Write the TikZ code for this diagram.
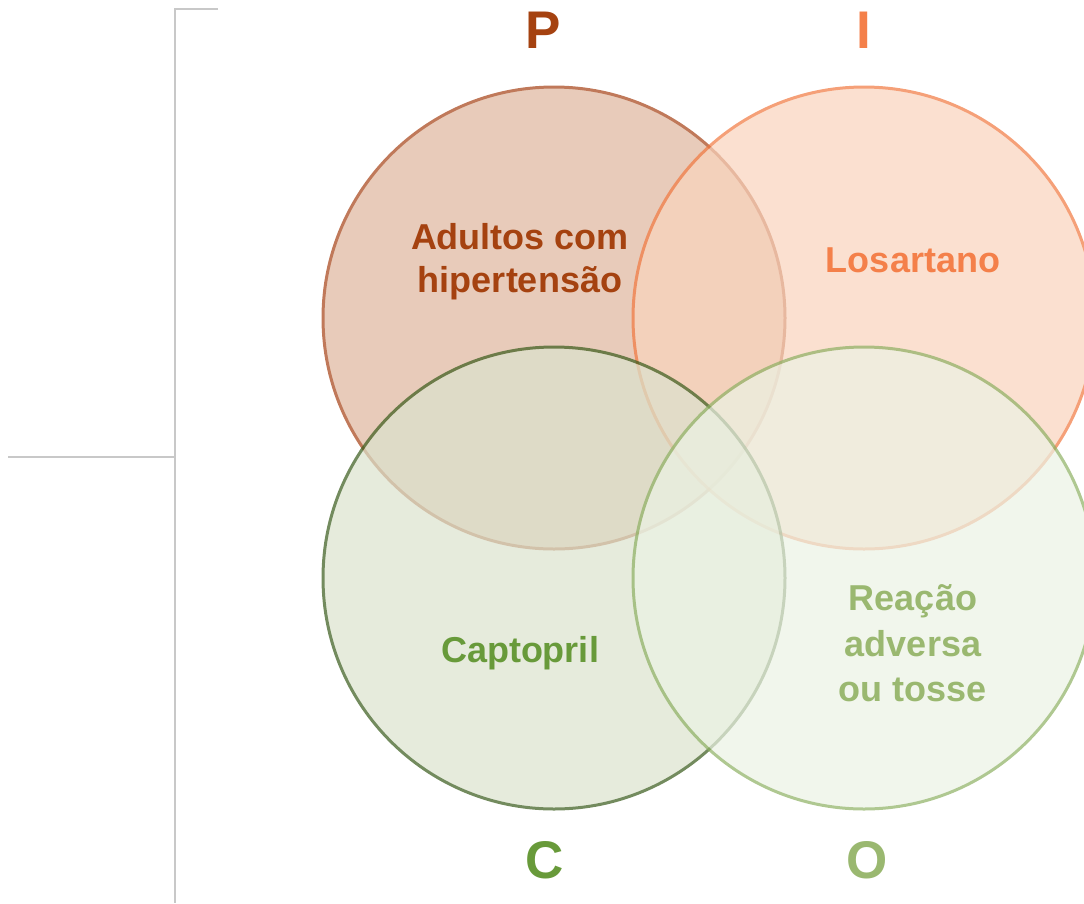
\documentclass[tikz,border=0pt]{standalone}
\usepackage{fontspec}
\setmainfont{Liberation Sans}
\definecolor{pcol}{RGB}{165,66,16}
\definecolor{icol}{RGB}{244,128,74}
\definecolor{ccol}{RGB}{104,154,58}
\definecolor{ocol}{RGB}{154,184,112}
\definecolor{pfill}{RGB}{222,181,156}
\definecolor{ifill}{RGB}{249,211,188}
\definecolor{cfill}{RGB}{219,226,205}
\definecolor{ofill}{RGB}{235,242,228}
\definecolor{pstroke}{RGB}{165,64,20}
\definecolor{istroke}{RGB}{241,119,62}
\definecolor{cstroke}{RGB}{55,90,25}
\definecolor{ostroke}{RGB}{141,176,98}
\definecolor{brk}{RGB}{200,200,200}
\tikzset{
  venn/.style={circle, minimum size=462pt, inner sep=0pt, line width=3pt},
  bigletter/.style={font=\fontsize{53}{60}\selectfont\bfseries, anchor=base, inner sep=0pt},
  lbl/.style={font=\fontsize{36}{43}\selectfont\bfseries, align=center, inner sep=0pt},
  bracket/.style={draw=brk, line width=2.5pt},
  veil/.style={transparency group, opacity=0.7}
}
\begin{document}
\begin{tikzpicture}[x=1pt,y=-1pt]
\useasboundingbox (0,0) rectangle (1084,903);
% bracket
\coordinate (btop) at (218,9);
\coordinate (bcorner) at (175,9);
\coordinate (bbot) at (175,903);
\coordinate (bmid) at (175,457);
\coordinate (bleft) at (8,457);
\draw[bracket] (btop) -- (bcorner) -- (bbot);
\draw[bracket] (bleft) -- (bmid);
% circles
\begin{scope}[veil]
\node[venn, fill=pfill, draw=pstroke] (P) at (554,318) {};
\end{scope}
\begin{scope}[veil]
\node[venn, fill=ifill, draw=istroke] (I) at (864,318) {};
\end{scope}
\begin{scope}[veil]
\node[venn, fill=cfill, draw=cstroke] (C) at (554,578) {};
\end{scope}
\begin{scope}[veil]
\node[venn, fill=ofill, draw=ostroke] (O) at (864,578) {};
\end{scope}
% texts
\node[lbl, text=pcol, anchor=base] (pt1) at (520,249) {Adultos com};
\node[lbl, text=pcol, anchor=base] (pt2) at (520,292) {hipertensão};
\node[lbl, text=icol, anchor=base] (it) at (913,272) {Losartano};
\node[lbl, text=ccol, anchor=base] (ct) at (520,662) {Captopril};
\node[lbl, text=ocol, anchor=base] (ot1) at (913,610) {Reação};
\node[lbl, text=ocol, anchor=base] (ot2) at (913,656) {adversa};
\node[lbl, text=ocol, anchor=base] (ot3) at (913,701) {ou tosse};
% letters
\node[bigletter, text=pcol] (PL) at (543,48) {P};
\node[bigletter, text=icol] (IL) at (864,48) {I};
\node[bigletter, text=ccol] (CL) at (545,878) {C};
\node[bigletter, text=ocol] (OL) at (867,878) {O};
\end{tikzpicture}
\end{document}
